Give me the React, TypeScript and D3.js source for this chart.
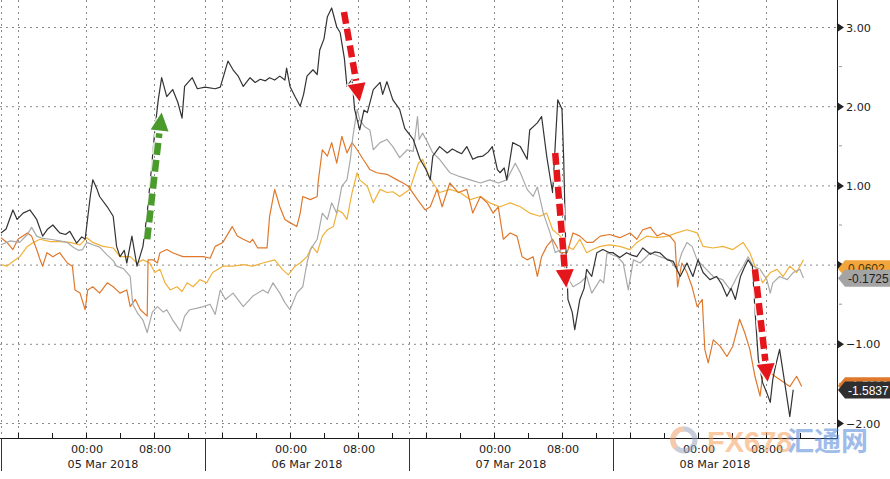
import * as d3 from "d3";

// time is kept as hours after the left edge of the axis (04 Mar 2018 14:00)
const HOUR = 3600 * 1000;
const T0 = Date.UTC(2018, 2, 4, 14);
const DAYS = 4;

type Pt = [number, number];

const BLACK: Pt[] = [
  [0, 0.4], [0.6, 0.45], [1.4, 0.69], [1.9, 0.57], [2.6, 0.65], [3.4, 0.69], [4.2, 0.57], [4.9, 0.36],
  [5.5, 0.45], [6.1, 0.5], [6.9, 0.4], [7.6, 0.38], [8.1, 0.42], [8.9, 0.27], [9.5, 0.35], [9.9, 0.32],
  [10.5, 0.86], [10.8, 1.07], [11.3, 0.95], [11.6, 0.86], [12.5, 0.73], [13.2, 0.61], [13.6, 0.23],
  [14.0, 0.1], [14.5, 0.18], [14.8, 0.02], [15.4, 0.36], [16.0, -0.02], [16.7, 0.23], [17.2, 0.65],
  [17.8, 1.33], [18.1, 1.7], [18.5, 2.08], [18.9, 2.36], [19.5, 2.12], [20.2, 2.21], [20.8, 2.05],
  [21.3, 1.85], [21.6, 2.25], [22.5, 2.36], [23.1, 2.22], [24.0, 2.24], [25.2, 2.22], [25.8, 2.24],
  [26.7, 2.57], [27.3, 2.46], [27.9, 2.38], [28.5, 2.25], [29.3, 2.36], [29.9, 2.3], [30.5, 2.34],
  [31.1, 2.32], [31.6, 2.36], [32.2, 2.33], [32.8, 2.38], [33.4, 2.33], [33.6, 2.48], [34.0, 2.25],
  [34.6, 2.12], [35.2, 2.0], [35.6, 2.15], [36.0, 2.38], [36.7, 2.46], [37.2, 2.4], [37.5, 2.71],
  [38.0, 2.85], [38.4, 3.13], [38.9, 3.24], [39.5, 3.0], [39.9, 2.93], [40.4, 2.6], [40.7, 2.25],
  [41.3, 2.34], [41.6, 1.96], [42.2, 1.7], [42.7, 1.95], [43.1, 1.92], [43.8, 2.21], [44.6, 2.3],
  [44.9, 2.15], [45.4, 2.31], [46.1, 2.08], [46.9, 1.96], [47.5, 1.72], [48.5, 1.58], [49.3, 1.33],
  [50.0, 1.2], [50.5, 1.07], [50.8, 1.37], [51.6, 1.49], [52.5, 1.41], [53.1, 1.46], [53.6, 1.43],
  [54.2, 1.4], [54.8, 1.49], [55.5, 1.33], [56.1, 1.36], [56.7, 1.37], [57.3, 1.42], [57.8, 1.49],
  [58.4, 1.2], [58.7, 1.16], [59.2, 1.22], [59.5, 1.07], [60.2, 1.54], [61.1, 1.49], [61.9, 1.33],
  [62.2, 1.7], [63.1, 1.79], [63.6, 1.87], [64.2, 1.37], [64.6, 1.1], [64.9, 0.91], [65.3, 1.7],
  [65.5, 2.08], [66.0, 1.96], [66.2, 1.33], [66.4, 0.4], [66.7, -0.44], [67.2, -0.6], [67.5, -0.82],
  [68.1, -0.44], [68.6, -0.3], [68.9, -0.06], [69.5, -0.15], [70.1, 0.15], [70.8, 0.19], [71.6, 0.15],
  [72.0, 0.15], [72.8, 0.09], [73.6, 0.15], [74.2, 0.12], [74.8, 0.1], [75.5, 0.21], [76.4, 0.13],
  [76.9, 0.16], [77.5, 0.15], [78.4, 0.06], [79.1, 0.04], [79.9, -0.15], [80.7, 0.02], [81.4, -0.15],
  [82.0, 0.06], [82.6, -0.1], [83.4, -0.19], [84.2, -0.15], [84.8, -0.25], [85.4, -0.4], [85.9, -0.3],
  [86.4, -0.44], [87.0, -0.15], [87.4, -0.05], [87.9, 0.06], [88.4, -0.02], [88.7, -0.57], [89.1, -1.2],
  [89.6, -1.49], [90.1, -1.62], [90.5, -1.74], [90.8, -1.45], [91.1, -1.29], [91.6, -1.07], [92.2, -1.49],
  [92.8, -1.92], [93.2, -1.58],
];

const GRAY: Pt[] = [
  [0, 0.25], [1.1, 0.3], [2.2, 0.28], [3.1, 0.38], [3.6, 0.47], [4.2, 0.36], [4.9, 0.33], [5.8, 0.32],
  [6.9, 0.3], [7.8, 0.28], [8.5, 0.22], [9.1, 0.18], [9.6, 0.19], [10.1, 0.28], [10.8, 0.25], [11.6, 0.22],
  [12.5, 0.12], [13.2, 0.05], [13.6, -0.02], [14.4, -0.05], [15.2, -0.15], [15.5, -0.5], [16.1, -0.62],
  [16.7, -0.7], [17.2, -0.86], [17.8, -0.6], [18.4, -0.53], [19.1, -0.6], [19.5, -0.57], [20.2, -0.7],
  [21.1, -0.84], [21.6, -0.65], [22.2, -0.57], [23.1, -0.55], [23.8, -0.53], [24.6, -0.5], [25.2, -0.63],
  [25.8, -0.32], [26.4, -0.44], [27.3, -0.36], [28.5, -0.53], [29.6, -0.4], [30.8, -0.32], [31.4, -0.36],
  [32.0, -0.23], [32.8, -0.36], [33.4, -0.48], [34.0, -0.57], [34.8, -0.36], [35.5, -0.28], [36.0, 0.02],
  [36.4, 0.19], [37.2, 0.32], [37.8, 0.65], [38.4, 0.57], [38.9, 0.78], [39.5, 0.65], [40.1, 0.99],
  [40.7, 1.07], [41.1, 1.33], [41.4, 1.62], [41.9, 1.96], [42.2, 1.83], [42.8, 1.74], [43.4, 1.7],
  [43.8, 1.45], [44.6, 1.54], [45.4, 1.58], [46.1, 1.49], [46.9, 1.35], [47.8, 1.45], [48.5, 1.43],
  [49.0, 1.87], [49.2, 1.58], [49.6, 1.66], [50.2, 1.54], [50.8, 1.41], [51.6, 1.33], [52.8, 1.16],
  [54.0, 1.11], [55.2, 1.07], [56.4, 1.03], [57.5, 1.07], [58.5, 1.03], [59.5, 1.07], [60.5, 1.28],
  [61.1, 1.16], [61.9, 0.95], [62.6, 0.86], [63.1, 0.98], [63.8, 0.65], [64.6, 0.4], [65.2, 0.15],
  [65.8, 0.19], [66.6, -0.15], [67.3, -0.28], [68.1, -0.23], [68.9, -0.15], [69.5, -0.36], [70.5, -0.19],
  [70.9, -0.23], [71.3, 0.15], [72.5, 0.1], [73.2, 0.02], [73.8, -0.32], [74.4, 0.06], [75.2, 0.02],
  [76.4, 0.15], [77.5, 0.1], [78.7, 0.06], [79.5, -0.06], [80.1, 0.15], [80.7, 0.28], [81.3, 0.23],
  [81.9, 0.06], [82.6, -0.02], [83.8, -0.15], [84.9, -0.19], [85.8, -0.32], [86.6, -0.15], [87.3, -0.02],
  [87.9, 0.1], [88.5, -0.02], [89.3, -0.06], [90.1, -0.19], [90.5, -0.36], [90.8, -0.23], [91.6, -0.15],
  [92.5, -0.19], [93.2, -0.1], [94.0, -0.06], [94.4, -0.17],
];

const ORANGE: Pt[] = [
  [0, 0.34], [0.7, 0.28], [1.4, 0.19], [2.0, 0.32], [3.1, 0.4], [3.6, 0.36], [4.2, 0.19], [4.6, 0.06],
  [4.9, -0.02], [5.4, 0.15], [6.1, 0.1], [6.9, 0.15], [7.8, 0.02], [8.4, -0.02], [8.7, -0.32], [9.3, -0.36],
  [9.9, -0.57], [10.2, -0.32], [10.8, -0.28], [11.6, -0.36], [12.5, -0.23], [13.2, -0.28], [14.0, -0.36],
  [14.8, -0.32], [15.2, -0.53], [15.8, -0.44], [16.4, -0.57], [17.2, -0.65], [17.3, 0.06], [17.9, 0.06],
  [18.4, 0.02], [18.7, 0.15], [19.5, 0.19], [20.2, 0.15], [21.4, 0.1], [22.6, 0.1], [23.8, 0.1], [24.6, 0.08],
  [25.2, 0.23], [26.1, 0.28], [27.2, 0.48], [27.8, 0.36], [28.5, 0.32], [29.3, 0.28], [29.6, 0.32],
  [30.2, 0.21], [31.3, 0.21], [31.6, 0.61], [32.2, 0.95], [32.8, 0.73], [33.4, 0.57], [34.0, 0.53],
  [34.8, 0.48], [35.2, 0.65], [35.5, 0.86], [36.4, 0.82], [37.2, 0.86], [37.3, 1.03], [37.8, 1.45],
  [38.4, 1.37], [38.9, 1.54], [39.5, 1.28], [40.1, 1.62], [40.7, 1.41], [41.3, 1.54], [41.9, 1.45],
  [42.6, 1.33], [43.4, 1.2], [44.2, 1.16], [45.4, 1.14], [46.6, 1.07], [47.3, 1.03], [47.9, 0.99],
  [49.0, 0.82], [49.9, 0.69], [50.5, 0.73], [51.3, 0.95], [51.9, 0.73], [52.8, 1.03], [53.8, 0.91],
  [54.8, 0.95], [55.5, 0.65], [56.4, 0.86], [57.2, 0.78], [57.9, 0.65], [58.5, 0.73], [59.1, 0.32],
  [59.9, 0.4], [60.7, 0.36], [61.3, 0.1], [61.9, 0.06], [62.6, 0.1], [63.1, -0.15], [63.6, 0.1],
  [64.2, 0.23], [64.9, 0.32], [65.8, 0.15], [66.6, 0.15], [67.3, 0.4], [68.1, 0.36], [68.9, 0.28],
  [69.6, 0.28], [70.5, 0.36], [71.6, 0.38], [72.8, 0.34], [74.0, 0.4], [74.8, 0.32], [75.5, 0.44],
  [76.4, 0.47], [77.2, 0.36], [77.9, 0.4], [78.7, 0.36], [79.3, 0.28], [79.6, -0.28], [80.1, 0.02],
  [80.7, -0.1], [81.3, -0.28], [81.9, -0.53], [82.5, -0.44], [82.8, -1.07], [83.2, -1.24], [83.8, -0.95],
  [84.6, -1.03], [85.4, -1.16], [86.1, -1.03], [86.9, -0.69], [87.5, -0.86], [88.1, -1.07], [88.7, -1.41],
  [89.3, -1.66], [89.6, -1.41], [90.5, -1.37], [91.6, -1.45], [92.8, -1.54], [93.6, -1.41], [94.2, -1.54],
];

const YELLOW: Pt[] = [
  [0, 0.0], [0.7, -0.02], [1.4, 0.04], [2.2, 0.1], [3.1, 0.23], [3.8, 0.28], [4.6, 0.32], [5.8, 0.29],
  [6.9, 0.29], [8.1, 0.28], [9.3, 0.25], [10.1, 0.34], [10.8, 0.28], [12.0, 0.23], [13.2, 0.21], [14.0, 0.1],
  [15.2, 0.1], [16.0, 0.02], [16.7, 0.06], [17.5, 0.02], [18.1, -0.1], [18.7, -0.06], [19.3, -0.23],
  [19.9, -0.32], [20.7, -0.28], [21.3, -0.34], [21.9, -0.23], [22.6, -0.28], [23.4, -0.19], [24.2, -0.23],
  [24.9, -0.1], [26.1, -0.02], [27.3, -0.02], [28.5, 0.0], [29.6, -0.02], [30.8, 0.02], [32.2, 0.06],
  [33.1, -0.06], [33.8, -0.13], [34.6, -0.02], [35.2, 0.02], [36.0, 0.1], [36.6, 0.23], [37.2, 0.15],
  [37.8, 0.36], [38.4, 0.44], [39.1, 0.48], [39.6, 0.69], [40.2, 0.65], [40.7, 0.57], [41.3, 0.91],
  [41.9, 1.16], [42.2, 1.07], [43.1, 0.99], [43.8, 0.78], [44.6, 0.95], [45.4, 0.91], [46.1, 0.92],
  [46.9, 0.86], [48.1, 0.95], [49.1, 1.28], [49.6, 1.33], [50.2, 1.16], [50.8, 1.03], [51.6, 0.91],
  [52.8, 0.95], [54.0, 0.91], [55.2, 0.82], [56.4, 0.86], [57.5, 0.78], [58.7, 0.73], [59.9, 0.78],
  [61.1, 0.73], [62.2, 0.65], [63.4, 0.61], [64.2, 0.65], [64.9, 0.44], [65.8, 0.36], [66.6, 0.23],
  [67.3, 0.19], [68.1, 0.32], [68.9, 0.15], [69.6, 0.19], [70.5, 0.23], [71.6, 0.25], [72.8, 0.23],
  [74.0, 0.19], [74.8, 0.28], [76.0, 0.36], [77.2, 0.34], [78.4, 0.36], [79.5, 0.4], [80.7, 0.44],
  [81.9, 0.4], [82.6, 0.23], [83.8, 0.21], [84.9, 0.23], [86.1, 0.19], [87.3, 0.28], [88.1, 0.15],
  [88.7, -0.02], [89.3, -0.15], [89.6, -0.23], [90.5, -0.1], [91.3, -0.06], [92.0, -0.15], [92.8, -0.02],
  [93.6, -0.1], [94.4, 0.06],
];

const Y_TICKS = [-2, -1, 0, 1, 2, 3];
const Y_MINOR = [-1.5, -0.5, 0.5, 1.5, 2.5];
// last values shown in the tags on the right: yellow, gray, orange, black
const LAST_VALUES = [0.0602, -0.1725, -1.53, -1.5837];

// annotation arrows, from/to in [hour, value]
const ARROW_FROM: Pt[] = [[17.2, 0.32], [40.35, 3.19], [65.2, 1.41], [88.7, -0.06]];
const ARROW_TO: Pt[] = [[18.9, 1.92], [42.2, 2.06], [66.5, -0.29], [90.2, -1.48]];

const SERIES = [
  { data: YELLOW, color: "#f0b13a" },
  { data: ORANGE, color: "#e0782c" },
  { data: GRAY, color: "#a9a9a9" },
  { data: BLACK, color: "#333333" },
];

const TAGS = [
  { fill: "#f2a53a", text: "#4a3510", nudge: 9 },
  { fill: "#a4a4a4", text: "#1e1e1e", nudge: 0 },
  { fill: "#e0782c", text: "#ffffff", nudge: 0 },
  { fill: "#2f2f2f", text: "#ffffff", nudge: 0 },
];

const ARROW_COLORS = ["#4a9a2c", "#e5151c", "#e5151c", "#e5151c"];

const AXIS_FONT = "'DejaVu Sans', sans-serif";
const TAG_FONT = "'Liberation Sans', Arial, sans-serif";

function Arrow({ x1, y1, x2, y2, color }: { x1: number; y1: number; x2: number; y2: number; color: string }) {
  const len = Math.hypot(x2 - x1, y2 - y1);
  const ux = (x2 - x1) / len;
  const uy = (y2 - y1) / len;
  const head = 18;
  const half = 9;
  const bx = x2 - ux * head;
  const by = y2 - uy * head;
  const px = -uy;
  const py = ux;
  const sx = bx - ux * 3;
  const sy = by - uy * 3;
  const tri = `${x2},${y2} ${bx + px * half},${by + py * half} ${bx - px * half},${by - py * half}`;
  return (
    <g>
      <line x1={x1} y1={y1} x2={sx} y2={sy} stroke="#fff" strokeOpacity={0.85} strokeWidth={10} strokeDasharray="12 5" />
      <polygon points={tri} fill="none" stroke="#fff" strokeOpacity={0.85} strokeWidth={3} strokeLinejoin="round" />
      <line x1={x1} y1={y1} x2={sx} y2={sy} stroke={color} strokeWidth={6.5} strokeDasharray="12 5" />
      <polygon points={tri} fill={color} />
    </g>
  );
}

export default function App() {
  const width = 890;
  const height = 479;
  const plotRight = 837;
  const plotBottom = 438;

  const t = (h: number) => new Date(T0 + h * HOUR);
  const x = d3.scaleUtc().domain([t(0), t(96)]).range([1, 817]);
  const y = d3.scaleLinear().domain([-2, 3]).range([423, 27]);
  const line = d3
    .line<Pt>()
    .x((d) => x(t(d[0])))
    .y((d) => y(d[1]));

  const fourHours = d3.utcHour.every(4)!.range(t(0), t(96));
  const gridTimes = fourHours.filter((d) => d.getUTCHours() % 8 === 0);
  const labelTimes = gridTimes.filter((d) => d.getUTCHours() !== 16);
  const boundaries = d3.range(DAYS).map((i) => t(i * 24));
  const hourFmt = d3.utcFormat("%H:%M");
  const dayFmt = d3.utcFormat("%d %b %Y");

  return (
    <svg
      width={width}
      height={height}
      style={{ position: "absolute", left: 0, top: 0, background: "#fff" }}
      fontFamily={AXIS_FONT}
    >
      <defs>
        <clipPath id="plot">
          <rect x={0} y={0} width={plotRight} height={plotBottom} />
        </clipPath>
      </defs>

      {/* grid */}
      <g stroke="#8a8a8a" strokeWidth={1} strokeDasharray="2 4">
        {Y_TICKS.map((v) => (
          <line key={v} x1={0} x2={plotRight} y1={y(v) + 0.5} y2={y(v) + 0.5} />
        ))}
        {gridTimes.concat(boundaries).map((d, i) => (
          <line key={i} x1={Math.round(x(d)) + 0.5} x2={Math.round(x(d)) + 0.5} y1={0} y2={plotBottom} />
        ))}
      </g>

      {/* series */}
      <g clipPath="url(#plot)" fill="none" strokeWidth={1.2} strokeLinejoin="round">
        {SERIES.map((s, i) => (
          <path key={i} d={line(s.data) ?? ""} stroke={s.color} />
        ))}
      </g>

      {/* arrows */}
      {ARROW_FROM.map((f, i) => (
        <Arrow
          key={i}
          x1={x(t(f[0]))}
          y1={y(f[1])}
          x2={x(t(ARROW_TO[i][0]))}
          y2={y(ARROW_TO[i][1])}
          color={ARROW_COLORS[i]}
        />
      ))}

      {/* bottom axis */}
      <line x1={0} x2={plotRight} y1={plotBottom + 0.5} y2={plotBottom + 0.5} stroke="#1a1a1a" />
      {fourHours.map((d, i) => (
        <line
          key={i}
          x1={Math.round(x(d)) + 0.5}
          x2={Math.round(x(d)) + 0.5}
          y1={plotBottom - 5}
          y2={plotBottom}
          stroke="#1a1a1a"
        />
      ))}
      {boundaries.map((d, i) => (
        <line
          key={i}
          x1={Math.round(x(d)) + 0.5}
          x2={Math.round(x(d)) + 0.5}
          y1={plotBottom}
          y2={471}
          stroke="#333"
        />
      ))}
      <g fontSize={11.2} fill="#222" textAnchor="middle">
        {labelTimes.map((d, i) => (
          <text key={i} x={x(d) + 1} y={453}>
            {hourFmt(d)}
          </text>
        ))}
        {boundaries.map((d, i) => (
          <text key={i} x={x(t(i * 24 + 12))} y={468}>
            {dayFmt(t(i * 24 + 12))}
          </text>
        ))}
      </g>

      {/* right axis */}
      <line x1={plotRight + 0.5} x2={plotRight + 0.5} y1={0} y2={plotBottom + 1} stroke="#1a1a1a" />
      {Y_MINOR.map((v) => (
        <line key={v} x1={plotRight + 2} x2={plotRight + 5} y1={y(v)} y2={y(v)} stroke="#999" />
      ))}
      {Y_TICKS.map((v) => (
        <g key={v}>
          <polygon
            points={`${plotRight + 1},${y(v) - 3.5} ${plotRight + 7},${y(v) + 0.5} ${plotRight + 1},${y(v) + 4.5}`}
            fill="#222"
          />
          <text x={plotRight + 9} y={y(v) + 4.5} fontSize={11.2} fill="#222">
            {d3.format(".2f")(v)}
          </text>
        </g>
      ))}

      {/* last value tags */}
      {LAST_VALUES.map((v, i) => {
        const cy = y(v) + TAGS[i].nudge;
        const l = plotRight + 1;
        return (
          <g key={i}>
            <path
              d={`M${l},${cy} L${l + 7},${cy - 8.5} L${width},${cy - 8.5} L${width},${cy + 8.5} L${l + 7},${cy + 8.5} Z`}
              fill={TAGS[i].fill}
            />
            <text x={l + 10} y={cy + 4.5} fontSize={12} fontFamily={TAG_FONT} fill={TAGS[i].text}>
              {d3.format(".4f")(v).replace("\u2212", "-")}
            </text>
          </g>
        );
      })}

      {/* watermark */}
      <g opacity={0.55}>
        <circle cx={684} cy={440} r={11} fill="none" stroke="#9aa6bc" strokeWidth={5} />
        <path d="M 676 448 A 11 11 0 0 1 684 429" fill="none" stroke="#f2a067" strokeWidth={5} />
        <text
          x={707}
          y={452}
          fontFamily="'Liberation Sans', Arial, sans-serif"
          fontWeight="bold"
          fontSize={29}
          fill="#f6a05a"
        >
          FX678
        </text>
        <text x={787} y={451} fontFamily="'Noto Sans CJK SC', sans-serif" fontWeight="bold" fontSize={27} fill="#4f86d8">
          汇通网
        </text>
      </g>
    </svg>
  );
}
